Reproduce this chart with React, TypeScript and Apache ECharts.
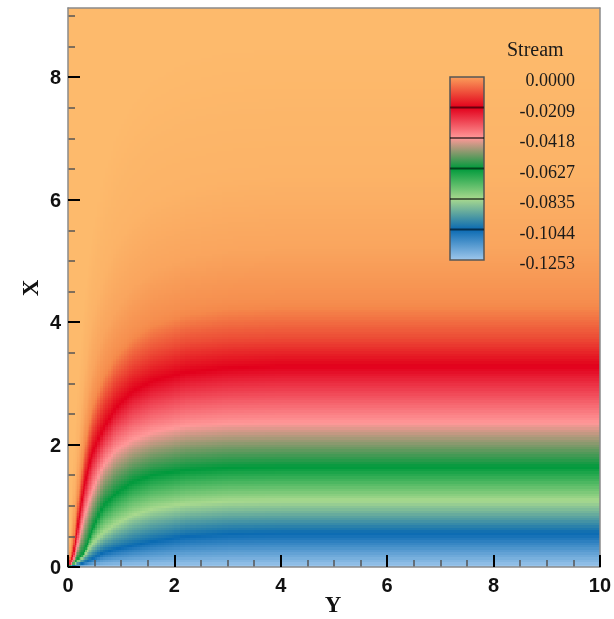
import React, { useEffect, useRef } from "react";
import * as echarts from "echarts";

// ---- data ----
// contour levels of the stream function (legend values)
const legendLevels = ["0.0000", "-0.0209", "-0.0418", "-0.0627", "-0.0835", "-0.1044", "-0.1253"];
const psiMin = -0.1253;
const psiMax = 0;
// palette at the legend levels (bottom -> top)
const levelColors = ["#9ec7ec", "#0a6ab2", "#a8d98e", "#009a3c", "#ff9898", "#e2001b", "#fdba6c"];
// colour half-way between -0.0209 and 0.0000 (orange rather than salmon)
const orangeMid = "#f5894b";
const legendTopColor = "#fb9e5a";

// Y stations (horizontal axis) where contour positions were read
const ySamples = [0, 0.1, 0.2, 0.3, 0.45, 0.65, 0.9, 1.2, 1.6, 2.2, 3, 4, 10];
// stream values of the traced contours, and their X positions at each Y station
const contourPsi = [-0.1253, -0.1044, -0.0835, -0.0627, -0.0418, -0.0209, -0.015, -0.009, -0.0045, -0.0015, 0];
const contourLightBlue = [0, 0, 0, 0, 0, 0, 0, 0, 0, 0, 0, 0, 0];
const contourBlue = [0, 0.02, 0.04, 0.07, 0.13, 0.23, 0.29, 0.35, 0.42, 0.5, 0.54, 0.55, 0.55];
const contourLightGreen = [0, 0.04, 0.1, 0.18, 0.37, 0.55, 0.7, 0.84, 0.95, 1.03, 1.07, 1.08, 1.08];
const contourGreen = [0, 0.06, 0.14, 0.22, 0.6, 0.98, 1.2, 1.38, 1.5, 1.58, 1.62, 1.63, 1.63];
const contourPink = [0, 0.08, 0.4, 0.8, 1.22, 1.63, 1.9, 2.07, 2.2, 2.3, 2.34, 2.35, 2.35];
const contourRed = [0, 0.2, 0.75, 1.3, 1.85, 2.24, 2.6, 2.86, 3.04, 3.18, 3.25, 3.28, 3.28];
const contourOrange1 = [0, 0.29, 0.99, 1.62, 2.24, 2.71, 3.07, 3.33, 3.52, 3.67, 3.73, 3.75, 3.75];
const contourOrange2 = [0, 0.48, 1.29, 1.99, 2.68, 3.17, 3.54, 3.83, 4.08, 4.26, 4.36, 4.4, 4.4];
const contourOrange3 = [0, 0.74, 1.64, 2.44, 3.18, 3.77, 4.19, 4.54, 4.83, 5.04, 5.16, 5.2, 5.2];
const contourOrange4 = [0, 1.12, 2.13, 3.09, 4.05, 4.69, 5.28, 5.65, 5.97, 6.19, 6.33, 6.4, 6.4];
const contourZero = [0, 1.86, 3.21, 4.35, 5.49, 6.42, 7.15, 7.67, 8.08, 8.39, 8.55, 8.6, 8.6];
const contourLines = [
  contourLightBlue, contourBlue, contourLightGreen, contourGreen, contourPink, contourRed,
  contourOrange1, contourOrange2, contourOrange3, contourOrange4, contourZero,
];

// axes
const yRange = [0, 10];
const xRange = [0, 9.13];
const hMajor = [0, 2, 4, 6, 8, 10];
const hMinor = [0.5, 1, 1.5, 2.5, 3, 3.5, 4.5, 5, 5.5, 6.5, 7, 7.5, 8.5, 9, 9.5];
const vMajor = [0, 2, 4, 6, 8];
const vMinor = [0.5, 1, 1.5, 2.5, 3, 3.5, 4.5, 5, 5.5, 6.5, 7, 7.5, 8.5, 9];

// ---- helpers ----
function interp(xs: number[], vs: number[], x: number) {
  if (x <= xs[0]) return vs[0];
  for (let i = 1; i < xs.length; i++) {
    if (x <= xs[i]) {
      const t = (x - xs[i - 1]) / (xs[i] - xs[i - 1]);
      return vs[i - 1] + t * (vs[i] - vs[i - 1]);
    }
  }
  return vs[vs.length - 1];
}

function psiAt(Y: number, X: number) {
  const pos = contourLines.map((c) => interp(ySamples, c, Y));
  if (X <= pos[0]) return contourPsi[0];
  for (let i = 1; i < pos.length; i++) {
    if (X <= pos[i]) {
      const d = pos[i] - pos[i - 1];
      const t = d > 1e-9 ? (X - pos[i - 1]) / d : 1;
      return contourPsi[i - 1] + t * (contourPsi[i] - contourPsi[i - 1]);
    }
  }
  return contourPsi[contourPsi.length - 1];
}

function edges(a: number, b: number, step: number) {
  const out: number[] = [];
  const n = Math.round((b - a) / step);
  for (let i = 0; i < n; i++) out.push(Math.round((a + i * step) * 10000) / 10000);
  return out;
}

function buildCells() {
  const ye = [...edges(0, 0.5, 0.025), ...edges(0.5, 2, 0.05), ...edges(2, 4, 0.1), ...edges(4, 10, 0.5), 10];
  const xe: number[] = [];
  for (let v = 0; v < xRange[1]; v += 0.04) xe.push(Math.round(v * 10000) / 10000);
  xe.push(xRange[1]);
  const cells: number[][] = [];
  for (let i = 0; i < ye.length - 1; i++) {
    const yc = (ye[i] + ye[i + 1]) / 2;
    for (let j = 0; j < xe.length - 1; j++) {
      const xc = (xe[j] + xe[j + 1]) / 2;
      cells.push([ye[i], xe[j], ye[i + 1], xe[j + 1], psiAt(yc, xc)]);
    }
  }
  return cells;
}

function mix(c1: string, c2: string) {
  const p = (c: string) => [1, 3, 5].map((k) => parseInt(c.slice(k, k + 2), 16));
  const a = p(c1);
  const b = p(c2);
  return "#" + a.map((v, i) => Math.round((v + b[i]) / 2).toString(16).padStart(2, "0")).join("");
}

function buildRamp() {
  const ramp: string[] = [];
  for (let i = 0; i < levelColors.length; i++) {
    ramp.push(levelColors[i]);
    if (i < levelColors.length - 1) {
      ramp.push(i === levelColors.length - 2 ? orangeMid : mix(levelColors[i], levelColors[i + 1]));
    }
  }
  return ramp;
}

const tickFont = {
  fontFamily: "'Liberation Sans', Arial, sans-serif",
  fontWeight: "bold" as const,
  fontSize: 20,
  color: "#111",
};

export default function App() {
  const ref = useRef<HTMLDivElement>(null);
  useEffect(() => {
    if (!ref.current) return;
    const chart = echarts.init(ref.current, null, { renderer: "svg" });
    const cells = buildCells();
    const ramp = buildRamp();

    const gTop = 77;
    const band = 30.5;
    const barX = 450;
    const barW = 34;
    const barH = band * 6;
    const gradStops = [
      { offset: 0, color: legendTopColor },
      ...[5, 4, 3, 2, 1, 0].map((k, i) => ({ offset: (i + 1) / 6, color: levelColors[k] })),
    ];
    const graphics: any[] = [
      {
        type: "rect",
        z: 50,
        shape: { x: barX, y: gTop, width: barW, height: barH },
        style: { fill: { type: "linear", x: 0, y: 0, x2: 0, y2: 1, colorStops: gradStops }, stroke: "#555", lineWidth: 1.5 },
      },
    ];
    for (let k = 1; k < 6; k++) {
      graphics.push({
        type: "line",
        z: 51,
        shape: { x1: barX, y1: gTop + k * band, x2: barX + barW, y2: gTop + k * band },
        style: { stroke: "rgba(0,0,0,0.55)", lineWidth: 2 },
      });
    }
    legendLevels.forEach((t, k) => {
      graphics.push({
        type: "text",
        z: 52,
        style: {
          text: t, x: 575, y: gTop + 3 + k * band,
          align: "right", verticalAlign: "middle", textAlign: "right", textVerticalAlign: "middle",
          font: "18px 'Liberation Serif', 'Times New Roman', serif", fill: "#1a1a1a",
        },
      });
    });
    graphics.push({
      type: "text", z: 52,
      style: {
        text: "Stream", x: 507, y: 49, align: "left", verticalAlign: "middle", textAlign: "left", textVerticalAlign: "middle",
        font: "20px 'Liberation Serif', 'Times New Roman', serif", fill: "#1a1a1a",
      },
    });
    graphics.push({
      type: "text", z: 52, x: 30, y: 288, rotation: Math.PI / 2,
      style: {
        text: "X", x: 0, y: 0, align: "center", verticalAlign: "middle", textAlign: "center", textVerticalAlign: "middle",
        font: "bold 23px 'Liberation Serif', 'Times New Roman', serif", fill: "#111",
      },
    });
    graphics.push({
      type: "text", z: 52,
      style: {
        text: "Y", x: 333, y: 604, align: "center", verticalAlign: "middle", textAlign: "center", textVerticalAlign: "middle",
        font: "bold 23px 'Liberation Serif', 'Times New Roman', serif", fill: "#111",
      },
    });

    const frameLine = { show: true, onZero: false, lineStyle: { color: "#8a8a8a", width: 1.5 } };
    chart.setOption({
      animation: false,
      grid: { left: 68, top: 8, width: 537, height: 559, show: false },
      visualMap: {
        show: false, type: "continuous", min: psiMin, max: psiMax, dimension: 4, seriesIndex: 0,
        inRange: { color: ramp },
      },
      xAxis: [
        {
          type: "value", min: yRange[0], max: yRange[1], position: "bottom", z: 10,
          axisLine: frameLine,
          axisTick: { show: true, inside: true, length: 12, customValues: hMajor, lineStyle: { color: "#000", width: 2 } },
          axisLabel: { show: true, customValues: hMajor, margin: 8, ...tickFont },
          splitLine: { show: false },
        },
        {
          type: "value", min: yRange[0], max: yRange[1], position: "bottom", z: 9,
          axisLine: { show: false, onZero: false },
          axisTick: { show: true, inside: true, length: 7, customValues: hMinor, lineStyle: { color: "#555", width: 1.5 } },
          axisLabel: { show: false },
          splitLine: { show: false },
        },
        {
          type: "value", min: yRange[0], max: yRange[1], position: "top", z: 10,
          axisLine: frameLine, axisTick: { show: false }, axisLabel: { show: false }, splitLine: { show: false },
        },
      ],
      yAxis: [
        {
          type: "value", min: xRange[0], max: xRange[1], position: "left", z: 10,
          axisLine: frameLine,
          axisTick: { show: true, inside: true, length: 12, customValues: vMajor, lineStyle: { color: "#000", width: 2 } },
          axisLabel: { show: true, customValues: vMajor, margin: 7, ...tickFont },
          splitLine: { show: false },
        },
        {
          type: "value", min: xRange[0], max: xRange[1], position: "left", z: 9,
          axisLine: { show: false, onZero: false },
          axisTick: { show: true, inside: true, length: 7, customValues: vMinor, lineStyle: { color: "#555", width: 1.5 } },
          axisLabel: { show: false },
          splitLine: { show: false },
        },
        {
          type: "value", min: xRange[0], max: xRange[1], position: "right", z: 10,
          axisLine: frameLine, axisTick: { show: false }, axisLabel: { show: false }, splitLine: { show: false },
        },
      ],
      graphic: { elements: graphics },
      series: [
        {
          type: "custom",
          z: 1,
          xAxisIndex: 0,
          yAxisIndex: 0,
          silent: true,
          progressive: 0,
          progressiveThreshold: 1e9,
          encode: { x: [0, 2], y: [1, 3] },
          data: cells,
          renderItem: (params: any, api: any) => {
            const a = api.coord([api.value(0), api.value(1)]);
            const b = api.coord([api.value(2), api.value(3)]);
            const x0 = Math.round(a[0]);
            const x1 = Math.round(b[0]);
            const yb = Math.round(a[1]);
            const yt = Math.round(b[1]);
            if (x1 <= x0 || yb <= yt) return null;
            return {
              type: "rect",
              shape: { x: x0, y: yt, width: x1 - x0, height: yb - yt },
              style: { fill: api.visual("color") },
              silent: true,
            };
          },
        },
      ],
    });
    return () => chart.dispose();
  }, []);
  return <div ref={ref} style={{ position: "fixed", left: 0, top: 0, width: 614, height: 619 }} />;
}
